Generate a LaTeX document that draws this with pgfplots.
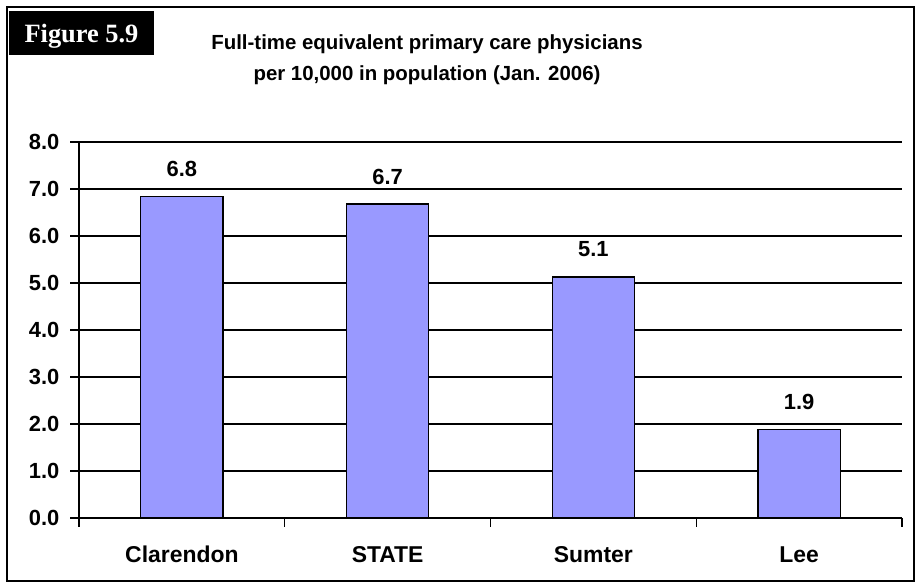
\documentclass[border=0pt]{standalone}
\usepackage{pgfplots}
\pgfplotsset{compat=1.18}
\usepackage{fontspec}
\setmainfont{Liberation Sans}
\newfontfamily\timesfont{Liberation Serif}
\definecolor{barblue}{HTML}{9999FF}
\begin{document}
\begin{tikzpicture}[x=1bp,y=1bp]
\path[use as bounding box] (0,0) rectangle (918,-583);
\draw[line width=2bp] (7,-7) rectangle (914,-581);
\fill[black] (9,-11) rectangle (154,-55);
\node[anchor=base, text=white, font=\timesfont\bfseries\fontsize{26.5}{30}\selectfont, inner sep=0pt] at (81.5,-43) {Figure 5.9};
\node[anchor=base, font=\bfseries\fontsize{20.5}{24}\selectfont, inner sep=0pt] at (427,-50) {Full-time equivalent primary care physicians};
\node[anchor=base, font=\bfseries\fontsize{20.5}{24}\selectfont, inner sep=0pt] at (427,-81) {per 10,000 in population (Jan. 2006)};
\begin{axis}[
  at={(79bp,-518bp)}, anchor=south west,
  scale only axis, width=823bp, height=376bp,
  xmin=0.5, xmax=4.5, ymin=0, ymax=8,
  axis x line*=bottom, axis y line*=left,
  axis line style={black, line width=1.3bp},
  ybar, bar width=0.4,
  ytick={0,1,...,8},
  /pgf/number format/assume math mode=true,
  yticklabel={\pgfmathprintnumber[fixed,fixed zerofill,precision=1]{\tick}},
  yticklabel style={font=\bfseries\fontsize{22}{24}\selectfont, inner sep=0pt, anchor=east, xshift=-11bp},
  ymajorgrids, major grid style={black, line width=1.3bp},
  tick align=outside, major tick length=8.5bp,
  tick style={black, line width=1.3bp},
  xtick={0.5,1.5,2.5,3.5,4.5}, xticklabels={},
  extra x ticks={1,2,3,4},
  extra x tick labels={Clarendon,STATE,Sumter,Lee},
  extra x tick style={major tick length=0pt, grid=none},
  xticklabel style={font=\bfseries\fontsize{23}{24}\selectfont, inner sep=0pt, anchor=base, yshift=-44bp},
  point meta=y,
  nodes near coords={\pgfmathprintnumber[fixed,fixed zerofill,precision=1]{\pgfplotspointmeta}},
  every node near coord/.append style={font=\bfseries\fontsize{22}{24}\selectfont, inner sep=0pt, anchor=base, yshift=20bp},
]
\addplot[fill=barblue, draw=black, line width=1.3bp] coordinates {(1,6.84) (2,6.68) (3,5.13) (4,1.88)};
\end{axis}
\end{tikzpicture}
\end{document}
